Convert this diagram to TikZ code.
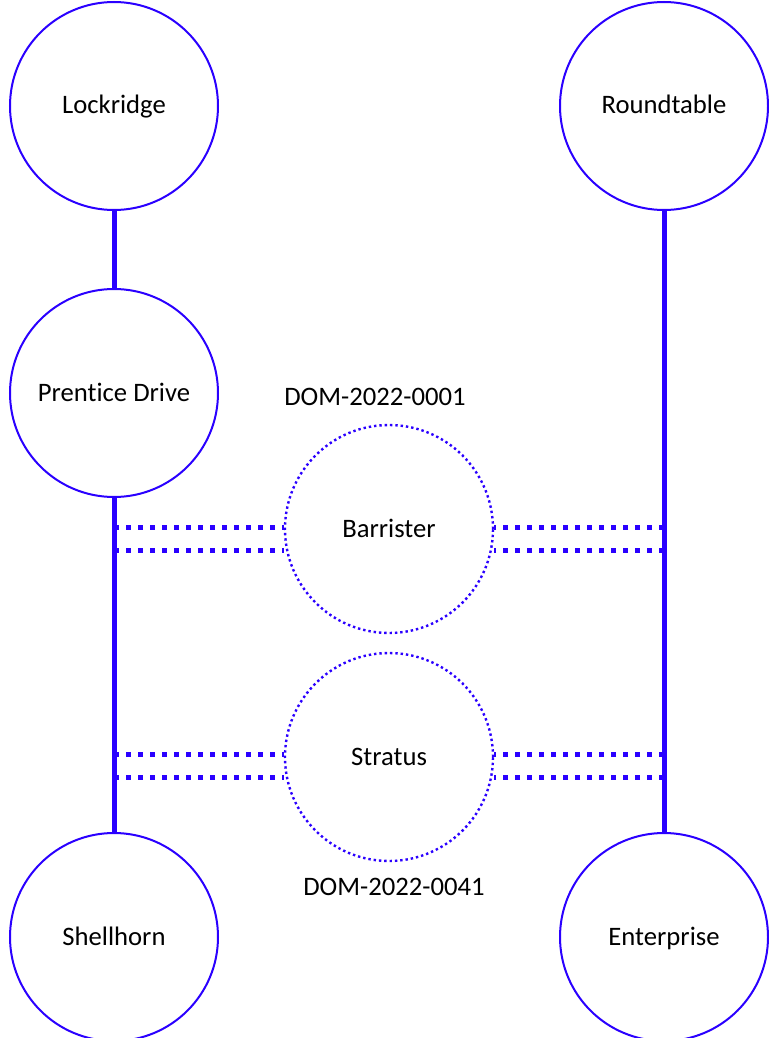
\documentclass[tikz,border=0pt]{standalone}
\usepackage{fontspec}
\setmainfont{Carlito}[Ligatures=NoCommon]
\usepackage{tikz}
\usetikzlibrary{positioning}
\definecolor{linkblue}{HTML}{2A00FF}
\tikzset{
  site/.style={draw=linkblue,line width=1.5pt,circle,minimum size=156pt,inner sep=0pt,
    text height=12pt,text depth=0pt,font=\fontsize{20}{24}\selectfont},
  relay/.style={site,line width=1.8pt,dash pattern=on 1.8pt off 2.2pt},
  link/.style={linkblue,line width=3.75pt},
  hop/.style={linkblue,line width=3.75pt,dash pattern=on 3.75pt off 5.25pt},
  tag/.style={anchor=base,font=\fontsize{20}{24}\selectfont}
}

\begin{document}
\begin{tikzpicture}[x=0.75pt,y=-0.75pt]
\useasboundingbox (0,0) rectangle (768,1038);
% sites
\node[site] (lock) at (114,106) {Lockridge};
\node[site] (round) at (664,106) {Roundtable};
\node[site] (pd) at (114,393) {Prentice Drive};
\node[site] (shell) at (114,937) {Shellhorn};
\node[site] (ent) at (664,937) {Enterprise};
\node[relay] (bar) at (389,529) {Barrister};
\node[relay] (strat) at (389,757) {Stratus};
\node[tag] (domA) at (375,405) {DOM-2022-0001};
\node[tag] (domB) at (394,895) {DOM-2022-0041};
% trunks
\draw[link] (lock) -- (pd);
\draw[link] (pd) -- (shell);
\draw[link] (round) -- (ent);
% taps on the trunks
\coordinate (wb1) at (114,527); \coordinate (wb2) at (114,550);
\coordinate (eb1) at (664,527); \coordinate (eb2) at (664,550);
\coordinate (ws1) at (114,754); \coordinate (ws2) at (114,777);
\coordinate (es1) at (664,754); \coordinate (es2) at (664,777);
\draw[hop] (wb1) -- (bar.west |- wb1);
\draw[hop] (wb2) -- (bar.west |- wb2);
\draw[hop] (eb1) -- (bar.east |- eb1);
\draw[hop] (eb2) -- (bar.east |- eb2);
\draw[hop] (ws1) -- (strat.west |- ws1);
\draw[hop] (ws2) -- (strat.west |- ws2);
\draw[hop] (es1) -- (strat.east |- es1);
\draw[hop] (es2) -- (strat.east |- es2);
\end{tikzpicture}
\end{document}
